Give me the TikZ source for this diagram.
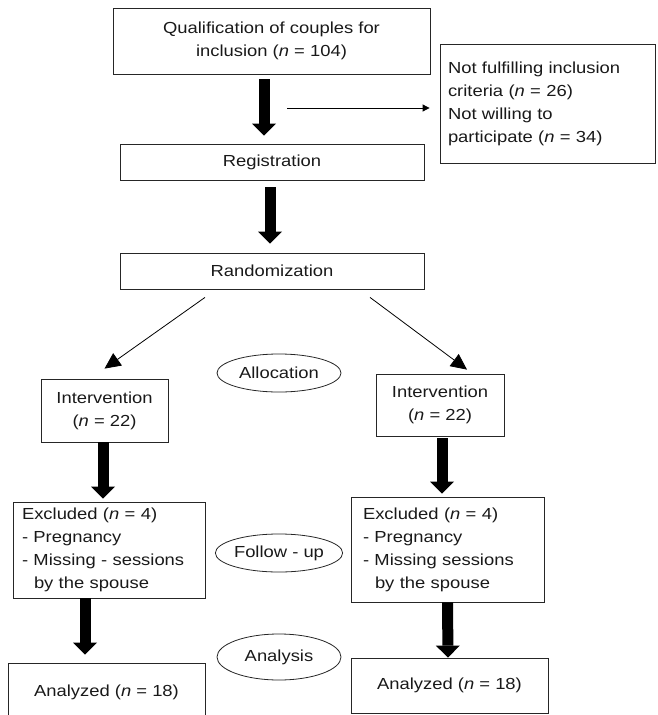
\documentclass[tikz,border=0pt]{standalone}
\usepackage{fontspec}
\setmainfont{Liberation Sans}[FakeStretch=1.15]
\usetikzlibrary{arrows.meta,shapes.geometric}
\begin{document}
\begin{tikzpicture}[x=1pt,y=-1pt,
box/.style={rectangle,draw=black!85,line width=0.8pt,inner sep=0pt,text=black!90,font=\fontsize{16}{23}\selectfont},
oval/.style={ellipse,draw=black!85,line width=0.8pt,inner sep=0pt,minimum width=124pt,text=black!90,font=\fontsize{16}{23}\selectfont},
fatarrow/.style={black,line width=11pt,-{Triangle[width=24pt,length=12pt,line width=0pt]}},
thinarrow/.style={black,line width=0.8pt,-{Triangle[width=7pt,length=7pt]}},
splitarrow/.style={black,line width=0.8pt,-{Triangle[width=15pt,length=16pt]}}]

\useasboundingbox (0,0) rectangle (657,715);

\node (qual) at (271.5,41) [box,minimum width=317pt,minimum height=66pt,align=center] {Qualification of couples for\\inclusion (\textit{n} = 104)};
\node (notin) at (547.5,103.5) [box,minimum width=215pt,minimum height=119pt,text width=199pt,align=left] {Not fulfilling inclusion\\criteria (\textit{n} = 26)\\Not willing to\\participate (\textit{n} = 34)};
\node (reg) at (272,162) [box,minimum width=304pt,minimum height=36pt] {Registration};
\node (rand) at (272,271) [box,minimum width=304pt,minimum height=36pt] {Randomization};

\node (alloc) at (279,373) [oval,minimum height=38pt] {Allocation};
\node (intl) at (104.5,410.5) [box,minimum width=127pt,minimum height=63pt,align=center] {Intervention\\(\textit{n} = 22)};
\node (intr) at (440,405) [box,minimum width=128pt,minimum height=62pt,align=center] {Intervention\\(\textit{n} = 22)};

\node (follow) at (279,553) [oval,minimum height=38pt] {Follow - up};
\node (exl) at (109,550) [box,minimum width=192pt,minimum height=96pt,text width=174pt,align=left] {Excluded (\textit{n} = 4)\\- Pregnancy\\- Missing - sessions\\\hspace*{12pt}by the spouse};
\node (exr) at (447.5,549.5) [box,minimum width=193pt,minimum height=105pt,text width=169pt,align=left] {Excluded (\textit{n} = 4)\\- Pregnancy\\- Missing sessions\\\hspace*{12pt}by the spouse};

\node (analysis) at (279,657) [oval,minimum height=46pt] {Analysis};
\node (anl) at (106.5,692) [box,minimum width=197pt,minimum height=58pt] {Analyzed (\textit{n} = 18)};
\node (anr) at (449.5,685.5) [box,minimum width=197pt,minimum height=55pt] {Analyzed (\textit{n} = 18)};

\coordinate (split) at (287,108);
\draw [thinarrow,shorten >=10pt] (split) -- (split -| notin.west);

\draw [fatarrow] ([shift={(-7.5pt,-5pt)}]qual.south) -- ([shift={(-8pt,8pt)}]reg.north);
\draw [fatarrow] ([shift={(-2pt,-7pt)}]reg.south) -- ([shift={(-2pt,9pt)}]rand.north);

\draw [splitarrow] ([shift={(-67pt,-8pt)}]rand.south) -- ([yshift=10pt]intl.north);
\draw [splitarrow] ([shift={(98pt,-8pt)}]rand.south) -- ([shift={(27pt,4pt)}]intr.north);

\draw [fatarrow] ([xshift=-1.5pt]intl.south) -- ([shift={(-6pt,3pt)}]exl.north);
\draw [fatarrow] ([shift={(2pt,-2pt)}]intr.south) -- ([shift={(-5.5pt,3pt)}]exr.north);
\draw [fatarrow] ([xshift=-24pt]exl.south) -- ([shift={(-21.5pt,8pt)}]anl.north);
\draw [fatarrow] (exr.south) -- ([xshift=-1.5pt]anr.north);

\end{tikzpicture}
\end{document}
